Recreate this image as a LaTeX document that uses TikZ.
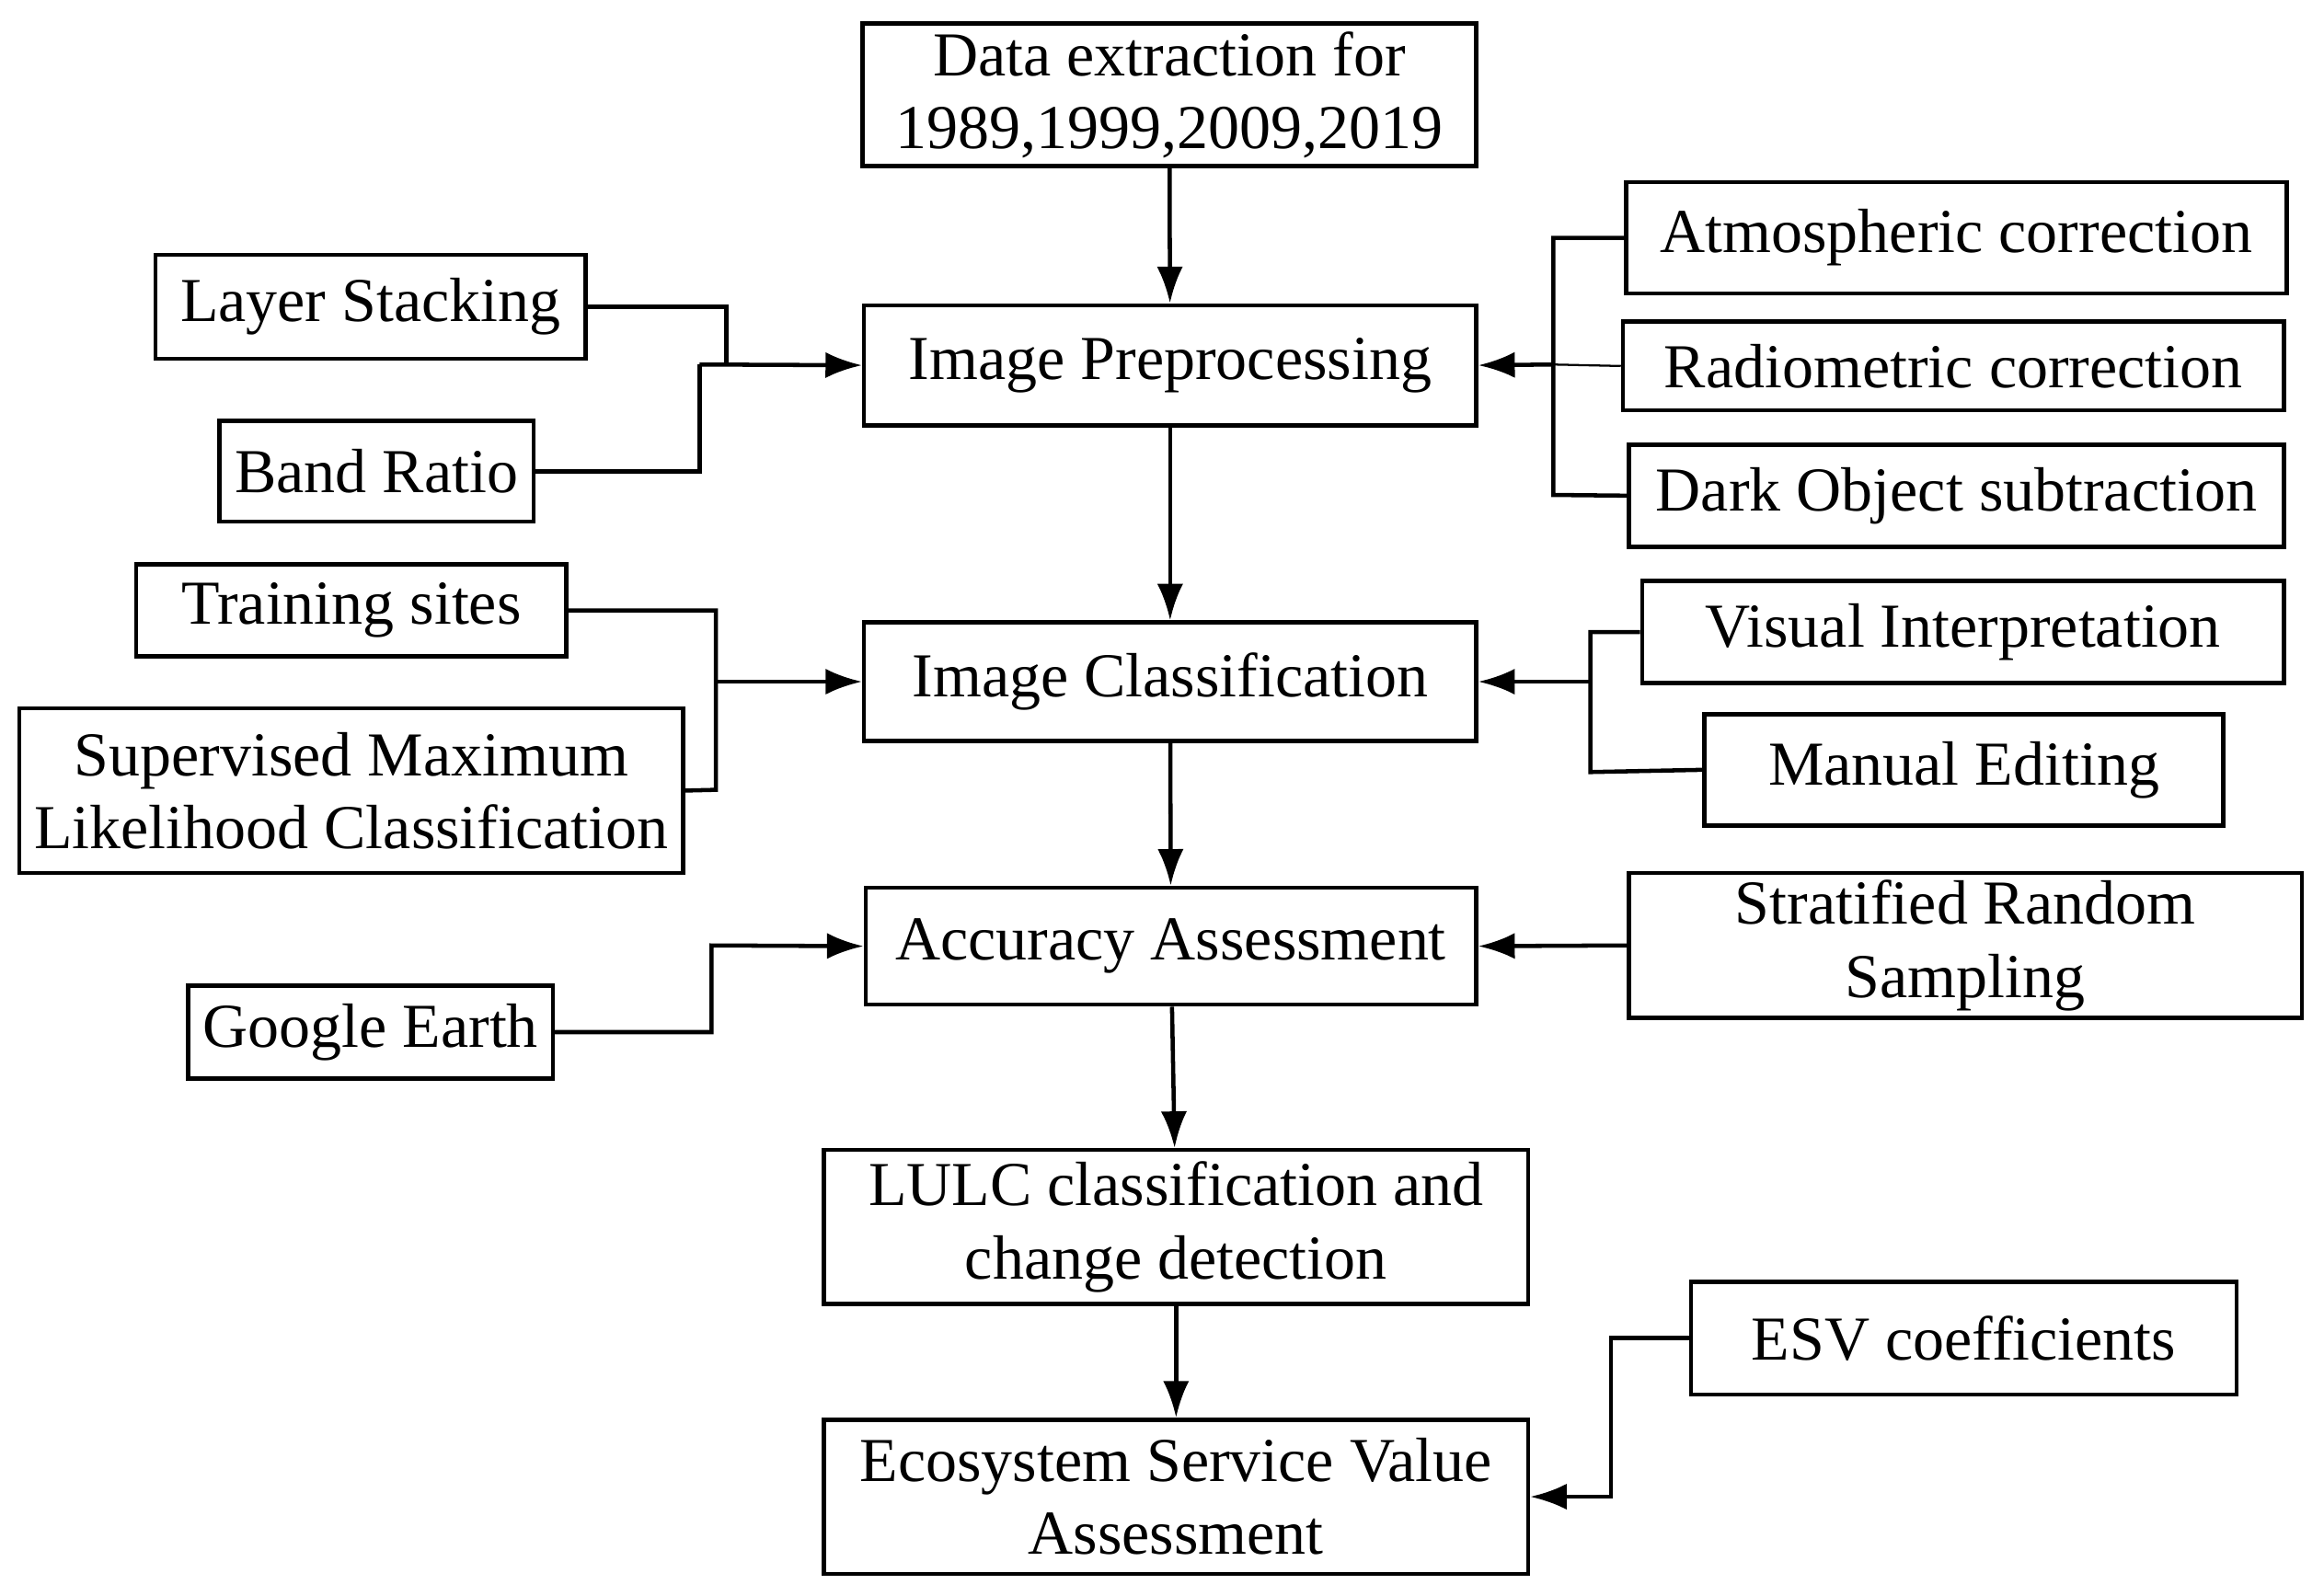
\documentclass[tikz,border=0pt]{standalone}
\usepackage{fontspec}
\setmainfont{Liberation Serif}
\usetikzlibrary{arrows.meta}
\begin{document}
\begin{tikzpicture}[x=0.01cm,y=-0.01cm,
  box/.style={draw,thick,align=center,inner sep=0pt,font=\fontsize{12}{14}\selectfont},
  ln/.style={thick},
  ar/.style={thick,-{Latex[length=7pt,width=5pt]}}]
\useasboundingbox (0,0) rectangle (1568,1077);
\newcommand{\bx}[6]{\node[box,minimum width={(#4-#2)*0.01cm},minimum height={(#5-#3)*0.01cm}] (#1) at ({(#2+#4)/2},{(#3+#5)/2}) {#6};}
\bx{data}{582}{16}{996}{112}{Data extraction for\\1989,1999,2009,2019}
\bx{pre}{583}{206}{996}{287}{Image Preprocessing}
\bx{atm}{1097}{123}{1543}{198}{Atmospheric correction}
\bx{rad}{1095}{217}{1541}{277}{Radiometric correction}
\bx{dark}{1099}{300}{1541}{369}{Dark Object subtraction}
\bx{layer}{105}{172}{395}{242}{Layer Stacking}
\bx{band}{148}{284}{360}{352}{Band Ratio}
\bx{cls}{583}{420}{996}{500}{Image Classification}
\bx{train}{92}{381}{382}{443}{Training sites}
\bx{smlc}{13}{478}{461}{589}{Supervised Maximum\\Likelihood Classification}
\bx{vis}{1108}{392}{1541}{461}{Visual Interpretation}
\bx{man}{1150}{482}{1500}{557}{Manual Editing}
\bx{acc}{584}{599}{996}{678}{Accuracy Assessment}
\bx{google}{127}{665}{373}{728}{Google Earth}
\bx{strat}{1099}{589}{1553}{687}{Stratified Random\\Sampling}
\bx{lulc}{556}{776}{1031}{880}{LULC classification and\\change detection}
\bx{esv}{556}{958}{1031}{1062}{Ecosystem Service Value\\Assessment}
\bx{coef}{1141}{865}{1509}{941}{ESV coefficients}
% main chain
\draw[ar] (data) -- (pre);
\draw[ar] (pre) -- (cls);
\draw[ar] (cls) -- (acc);
\draw[ar] (acc) -- (lulc);
\draw[ar] (lulc) -- (esv);
% preprocessing inputs
\coordinate (jl) at (472,246);
\draw[ln] (layer.east) -| (490,246);
\draw[ln] (band.east) -| (jl);
\draw[ar] (jl) -- (pre.west);
\coordinate (jr) at (1048,246);
\draw[ln] (atm.west) -| (1048,334) -- (dark.west);
\draw[thin] (rad.west) -- (jr);
\draw[ar] (jr) -- (pre.east);
% classification inputs
\coordinate (jc) at (483,460);
\draw[ln] (train.east) -| (483,533) -- (smlc.east);
\draw[ar] (jc) -- (cls.west);
\coordinate (jv) at (1073,460);
\draw[ln] (vis.west) -| (1073,521) -- (man.west);
\draw[ar] (jv) -- (cls.east);
% accuracy inputs
\draw[ar] (google.east) -| (480,638) -- (acc.west);
\draw[ar] (strat.west) -- (acc.east);
% esv
\draw[ar] (coef.west) -| (1087,1010) -- (esv.east);
\end{tikzpicture}
\end{document}
